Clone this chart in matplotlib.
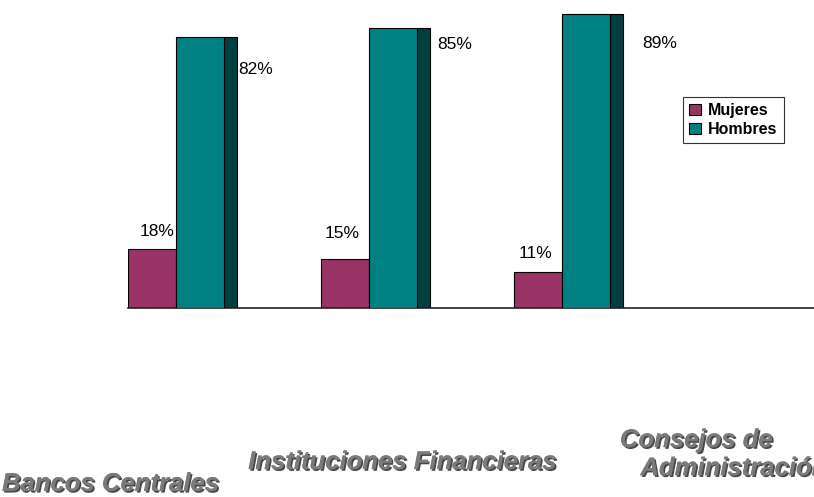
import matplotlib.pyplot as plt
import matplotlib.patheffects as pe
import numpy as np

categorias = ["Bancos Centrales", "Instituciones Financieras", "Consejos de\n   Administración"]
mujeres = [18, 15, 11]
hombres = [82, 85, 89]
series = ["Mujeres", "Hombres"]

c_muj = "#993366"
c_hom = "#008080"
c_lado = "#004040"

plt.rcParams['font.family'] = ['Liberation Sans', 'DejaVu Sans']

fig = plt.figure(figsize=(8.14, 4.97), dpi=100)
ax = fig.add_axes([128 / 814, 189 / 497, 686 / 814, 308 / 497])

x = np.arange(len(categorias))
w = 0.249
prof = 0.068  # profundidad de la cara lateral

ax.bar(x - w / 2, mujeres, w, color=c_muj, edgecolor="black", linewidth=0.8, label=series[0], zorder=2)
ax.bar(x + w + prof / 2, hombres, prof, color=c_lado, edgecolor="black", linewidth=0.8, zorder=2)
ax.bar(x + w / 2, hombres, w, color=c_hom, edgecolor="black", linewidth=0.8, label=series[1], zorder=3)

ax.set_xlim(-48 / 193, 638 / 193)
ax.set_ylim(0, 308 / 3.3)
for s in ["top", "right", "left"]:
    ax.spines[s].set_visible(False)
ax.spines["bottom"].set_color("#222222")
ax.spines["bottom"].set_linewidth(1.2)
ax.set_xticks([])
ax.set_yticks([])

# etiquetas de porcentaje (desplazamientos respecto a cada barra)
off_m = [(0.027, 5.3), (-0.013, 7.7), (-0.013, 5.4)]
off_h = [(0.41, -9.6), (0.446, -5.3), (0.508, -8.7)]
for i in range(len(categorias)):
    ax.text(x[i] - w / 2 + off_m[i][0], mujeres[i] + off_m[i][1], f"{mujeres[i]}%",
            ha="center", va="center", fontsize=12.5)
    ax.text(x[i] + off_h[i][0], hombres[i] + off_h[i][1], f"{hombres[i]}%",
            ha="center", va="center", fontsize=12.5)

# etiquetas de categoria
sombra = [pe.withSimplePatchShadow(offset=(1.2, -1.2), shadow_rgbFace="#333333", alpha=0.9), pe.Normal()]
pos_cat = [(-0.337, -53.3, "center"), (1.176, -46.7, "center"), (2.30, -44.3, "left")]
for (cx, cy, ha), nombre in zip(pos_cat, categorias):
    t = ax.text(cx, cy, nombre, ha=ha, va="center", fontsize=18.5, fontweight="bold",
                fontstyle="italic", color="#7a7a7a", clip_on=False, linespacing=1.22)
    t.set_path_effects(sombra)

leg = ax.legend(loc="upper left", bbox_to_anchor=((683 - 128) / 686, (308 - 97) / 308),
                frameon=True, fancybox=False, edgecolor="black",
                prop={"weight": "bold", "size": 11.5}, handlelength=0.7, handleheight=0.7,
                handletextpad=0.45, borderpad=0.4, labelspacing=0.22, borderaxespad=0)
leg.get_frame().set_linewidth(0.8)

fig.savefig("out.png", dpi=100)
